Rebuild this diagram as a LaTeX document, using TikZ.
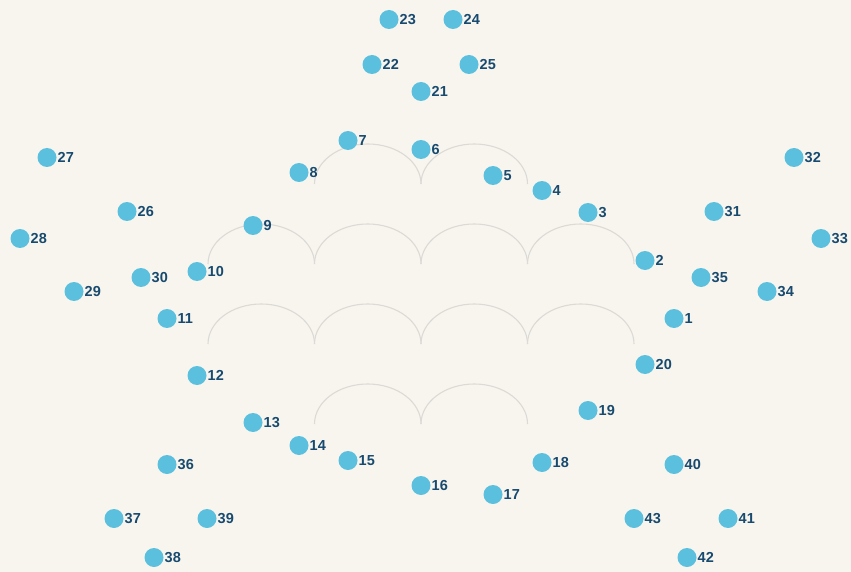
\documentclass[tikz,border=0pt]{standalone}
\usepackage{fontspec}
\setmainfont{Liberation Sans}
\definecolor{bg}{HTML}{F8F5EF}
\definecolor{dotc}{HTML}{5BC0DE}
\definecolor{lblc}{HTML}{174A6E}
\definecolor{arcc}{HTML}{DCDAD6}
\tikzset{
  dotnode/.style={circle,fill=dotc,draw=none,minimum size=19pt,inner sep=0pt},
  lblnode/.style={text=lblc,font=\fontsize{14.5}{17}\selectfont\bfseries,inner sep=0.5pt},
  scallop/.style={draw=arcc,line width=1.1pt}
}
\begin{document}
\begin{tikzpicture}[x=1pt,y=-1pt]
\fill[bg] (0,0) rectangle (851,572);
\useasboundingbox (0,0) rectangle (851,572);
% arcs
\foreach \bx/\by in {314.5/184,421/184,
  208/264,314.5/264,421/264,527.5/264,
  208/344,314.5/344,421/344,527.5/344,
  314.5/424,421/424}{
  \draw[scallop] (\bx,\by) arc[start angle=180,end angle=0,x radius=53.25pt,y radius=40pt];
}
% dots
\foreach \n/\px/\py in {1/674/318.5,2/645/260.5,3/588/212.5,4/542/190.5,5/493/175.5,
  6/421/149.5,7/348/140.5,8/299/172.5,9/253/225.5,10/197/271.5,11/167/318.5,
  12/197/375.5,13/253/422.5,14/299/445.5,15/348/460.5,16/421/485.5,17/493/494.5,
  18/542/462.5,19/588/410.5,20/645/364.5,21/421/91.5,22/372/64.5,23/389/19.5,
  24/453/19.5,25/469/64.5,26/127/211.5,27/47/157.5,28/20/238.5,29/74/291.5,
  30/141/277.5,31/714/211.5,32/794/157.5,33/821/238.5,34/767/291.5,35/701/277.5,
  36/167/464.5,37/114/518.5,38/154/557.5,39/207/518.5,40/674/464.5,41/728/518.5,
  42/687/557.5,43/634/518.5}{
  \node[dotnode,label={[lblnode,label distance=0.3pt]east:\n}] (p\n) at (\px,\py) {};
}
\end{tikzpicture}
\end{document}
